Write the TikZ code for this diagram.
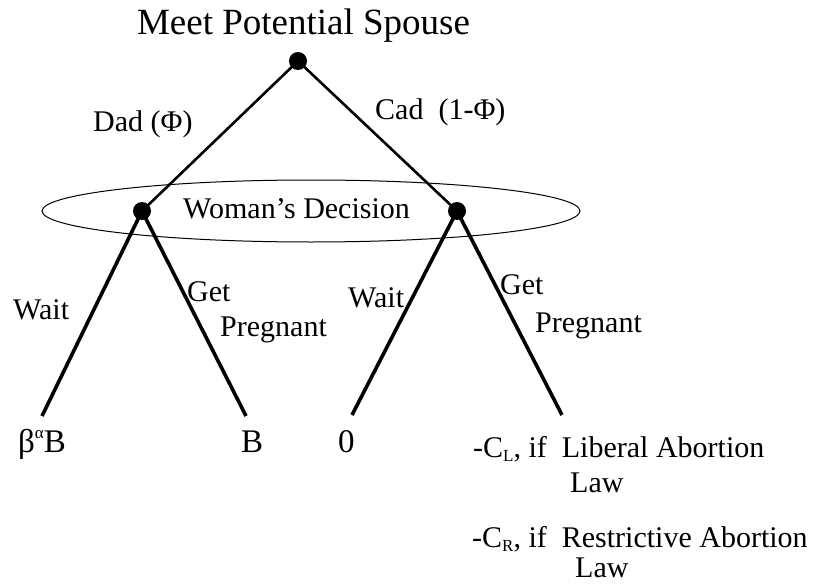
\documentclass[tikz,border=0pt]{standalone}
\usepackage{fontspec}
\setmainfont{Liberation Serif}
\newcommand{\lowsub}[1]{\raisebox{-4pt}{\fontsize{17}{17}\selectfont #1}}
\newcommand{\highsup}[1]{\raisebox{14pt}{\fontsize{17}{17}\selectfont #1}}
\begin{document}
\begin{tikzpicture}[x=1pt,y=-1pt,
  dot/.style={circle,fill=black,draw=none,minimum size=18pt,inner sep=0pt},
  lbl/.style={anchor=base west,inner sep=0pt,font=\fontsize{30}{30}\selectfont},
  leaf/.style={anchor=base west,inner sep=0pt,font=\fontsize{33}{33}\selectfont},
  upper/.style={line width=2.6pt,line cap=round},
  lower/.style={line width=3.6pt},
  infoset/.style={line width=1pt}]
\useasboundingbox (0,0) rectangle (825,586);
% information set
\draw[infoset] (311,211) ellipse [x radius=269, y radius=31];
% decision nodes
\node[dot] (root) at (298,61) {};
\node[dot] (dl) at (142,211) {};
\node[dot] (dr) at (457,211) {};
% end points of branches
\coordinate (e1) at (42,416);
\coordinate (e2) at (246,416);
\coordinate (e3) at (352,415);
\coordinate (e4) at (562,415);
% branches
\draw[upper] (root.center) -- (dl.center);
\draw[upper] (root.center) -- (dr.center);
\draw[lower] (dl.center) -- (e1);
\draw[lower] (dl.center) -- (e2);
\draw[lower] (dr.center) -- (e3);
\draw[lower] (dr.center) -- (e4);
% texts
\node[anchor=base,inner sep=0pt,font=\fontsize{37}{37}\selectfont] (title) at (303.5,35) {Meet Potential Spouse};
\node[lbl] (dad) at (93,131) {Dad (Φ)};
\node[lbl] (cad) at (375,120) {Cad\ \ (1-Φ)};
\node[lbl] (wd) at (183,218) {Woman’s Decision};
\node[lbl] (w1) at (13,319) {Wait};
\node[lbl] (g1) at (187,301) {Get};
\node[lbl] (p1) at (220,336) {Pregnant};
\node[lbl] (w2) at (348,307) {Wait};
\node[lbl] (g2) at (500,294) {Get};
\node[lbl] (p2) at (535,332) {Pregnant};
% payoffs
\node[leaf] (pay1) at (18,452) {β\highsup{α}B};
\node[leaf] (pay2) at (241,452) {B};
\node[leaf] (pay3) at (338,452) {0};
\node[lbl] (pay4a) at (473,457) {-C\lowsub{L}, if\ \ Liberal Abortion};
\node[lbl] (pay4b) at (570,492) {Law};
\node[lbl] (pay4c) at (472,547) {-C\lowsub{R}, if\ \ Restrictive Abortion};
\node[lbl] (pay4d) at (575,577) {Law};
\end{tikzpicture}
\end{document}
